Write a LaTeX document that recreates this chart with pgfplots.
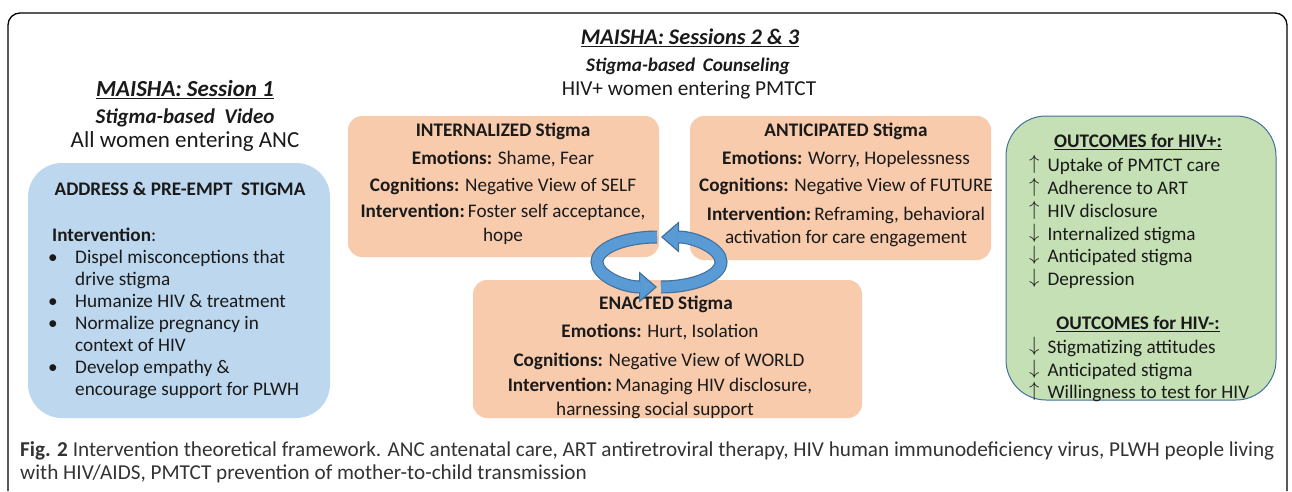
\documentclass[border=0pt]{standalone}
\usepackage{pgfplots}
\pgfplotsset{compat=1.18}
\usepackage{fontspec}
\setmainfont{Carlito}
\usetikzlibrary{arrows.meta}
\definecolor{bluebox}{HTML}{BDD7EE}
\definecolor{peach}{HTML}{F8CBAD}
\definecolor{greenbox}{HTML}{C5E0B4}
\definecolor{greenedge}{HTML}{41719C}
\definecolor{ring}{HTML}{5B9BD5}
\definecolor{ringdark}{HTML}{41719C}
\definecolor{txt}{HTML}{1A1A1A}
\definecolor{captxt}{HTML}{333333}
\newcommand{\TC}[3]{\node[anchor=mid,yshift=-3.5bp] at (axis cs:#1,#2) {#3};}
\newcommand{\TL}[3]{\node[anchor=mid west,yshift=-3.5bp] at (axis cs:#1,#2) {#3};}
\newcommand{\AR}[4]{\node[anchor=base west] at (axis cs:1029,#2) {\raisebox{1.5bp}{$#1$}\hspace{8bp}#3};}
\begin{document}
\begin{tikzpicture}[every node/.style={inner sep=0pt,text=txt,font=\fontsize{19.2bp}{22bp}\selectfont}]
\begin{axis}[width=1292bp,height=491bp,scale only axis,xmin=0,xmax=1292,ymin=0,ymax=491,
  y dir=reverse,hide axis,clip=false]
\addplot[draw=none] coordinates {(0,0) (1292,491)};
\path (rel axis cs:0,0) rectangle (rel axis cs:1,1);
% frame
\draw[line width=1.3bp,black,rounded corners=12bp] (axis cs:8,491) -- (axis cs:8,13) -- (axis cs:1287,13) -- (axis cs:1287,491);
% boxes
\fill[bluebox,rounded corners=34bp] (axis cs:28,163) rectangle (axis cs:330,418);
\fill[peach,rounded corners=14bp] (axis cs:348,116) rectangle (axis cs:659,257);
\fill[peach,rounded corners=14bp] (axis cs:690,116) rectangle (axis cs:991,260);
\fill[peach,rounded corners=14bp] (axis cs:473,280) rectangle (axis cs:862,418);
\draw[greenedge,fill=greenbox,line width=1bp,rounded corners=40bp] (axis cs:1006,116) rectangle (axis cs:1276,400);
% left titles
\TC{185}{91}{\fontsize{23bp}{26bp}\selectfont\bfseries\itshape\underline{MAISHA: Session 1}}
\TC{185}{118}{\fontsize{21bp}{24bp}\selectfont\bfseries\itshape Stigma-based\ \ Video}
\TC{185}{142}{\fontsize{23bp}{26bp}\selectfont All women entering ANC}
% center titles
\TC{690}{39}{\fontsize{22.3bp}{25bp}\selectfont\bfseries\itshape\underline{MAISHA: Sessions 2 \& 3}}
\TC{688}{66}{\fontsize{19.2bp}{22bp}\selectfont\bfseries\itshape Stigma-based\ \,Counseling}
\TC{689}{90}{\fontsize{21.3bp}{24bp}\selectfont HIV+ women entering PMTCT}
% blue box text
\TC{180}{190}{\textbf{ADDRESS \& PRE-EMPT\ \ STIGMA}}
\TL{52}{236}{\textbf{Intervention}:}
\TL{48}{258}{\textbullet}\TL{75}{258}{Dispel misconceptions that}
\TL{75}{280}{drive stigma}
\TL{48}{302}{\textbullet}\TL{75}{302}{Humanize HIV \& treatment}
\TL{48}{324}{\textbullet}\TL{75}{324}{Normalize pregnancy in}
\TL{75}{346}{context of HIV}
\TL{48}{368}{\textbullet}\TL{75}{368}{Develop empathy \&}
\TL{75}{390}{encourage support for PLWH}
% internalized
\TC{503}{131}{\textbf{INTERNALIZED Stigma}}
\TC{503}{159}{\textbf{Emotions:} Shame, Fear}
\TC{503}{186}{\textbf{Cognitions:} Negative View of SELF}
\TC{503}{212}{\textbf{Intervention:}\,Foster self acceptance,}
\TC{503}{236}{hope}
% anticipated
\TC{846}{131}{\textbf{ANTICIPATED Stigma}}
\TC{846}{159}{\textbf{Emotions:} Worry, Hopelessness}
\TC{846}{186}{\textbf{Cognitions:} Negative View of FUTURE}
\TC{846}{215}{\textbf{Intervention:}\,Reframing, behavioral}
\TC{846}{238}{activation for care engagement}
% enacted
\TC{666}{304}{\textbf{ENACTED Stigma}}
\TC{660}{332}{\textbf{Emotions:} Hurt, Isolation}
\TC{659}{361}{\textbf{Cognitions:} Negative View of WORLD}
\TC{660}{386}{\textbf{Intervention:}\,Managing HIV disclosure,}
\TC{655}{410}{harnessing social support}
% green box
\TC{1138}{142}{\textbf{\underline{OUTCOMES for HIV+:}}}
\AR{\uparrow}{171}{Uptake of PMTCT care}{}
\AR{\uparrow}{194}{Adherence to ART}{}
\AR{\uparrow}{217}{HIV disclosure}{}
\AR{\downarrow}{240}{Internalized stigma}{}
\AR{\downarrow}{262}{Anticipated stigma}{}
\AR{\downarrow}{285}{Depression}{}
\TC{1138}{324}{\textbf{\underline{OUTCOMES for HIV-:}}}
\AR{\downarrow}{353}{Stigmatizing attitudes}{}
\AR{\downarrow}{376}{Anticipated stigma}{}
\AR{\uparrow}{398}{Willingness to test for HIV}{}
% ring arrows
\draw[ringdark,line width=13bp,-{Triangle[width=31bp,length=18bp,fill=ring,line width=1.2bp]}] (axis cs:661,287) arc[start angle=-90,end angle=90,x radius=60bp,y radius=25bp];
\draw[ring,line width=10.6bp,shorten >=17bp] (axis cs:661,287) arc[start angle=-90,end angle=90,x radius=60bp,y radius=25bp];
\draw[ringdark,line width=13bp,-{Triangle[width=31bp,length=18bp,fill=ring,line width=1.2bp]}] (axis cs:657,237) arc[start angle=90,end angle=270,x radius=60bp,y radius=25bp];
\draw[ring,line width=10.6bp,shorten >=17bp] (axis cs:657,237) arc[start angle=90,end angle=270,x radius=60bp,y radius=25bp];
% caption
\TL{20}{451}{\color{captxt}\fontsize{21.2bp}{24bp}\selectfont\textbf{Fig. 2} Intervention theoretical framework. ANC antenatal care, ART antiretroviral therapy, HIV human immunodeficiency virus, PLWH people living}
\TL{20}{474}{\color{captxt}\fontsize{21.2bp}{24bp}\selectfont with HIV/AIDS, PMTCT prevention of mother-to-child transmission}
\end{axis}
\end{tikzpicture}
\end{document}
